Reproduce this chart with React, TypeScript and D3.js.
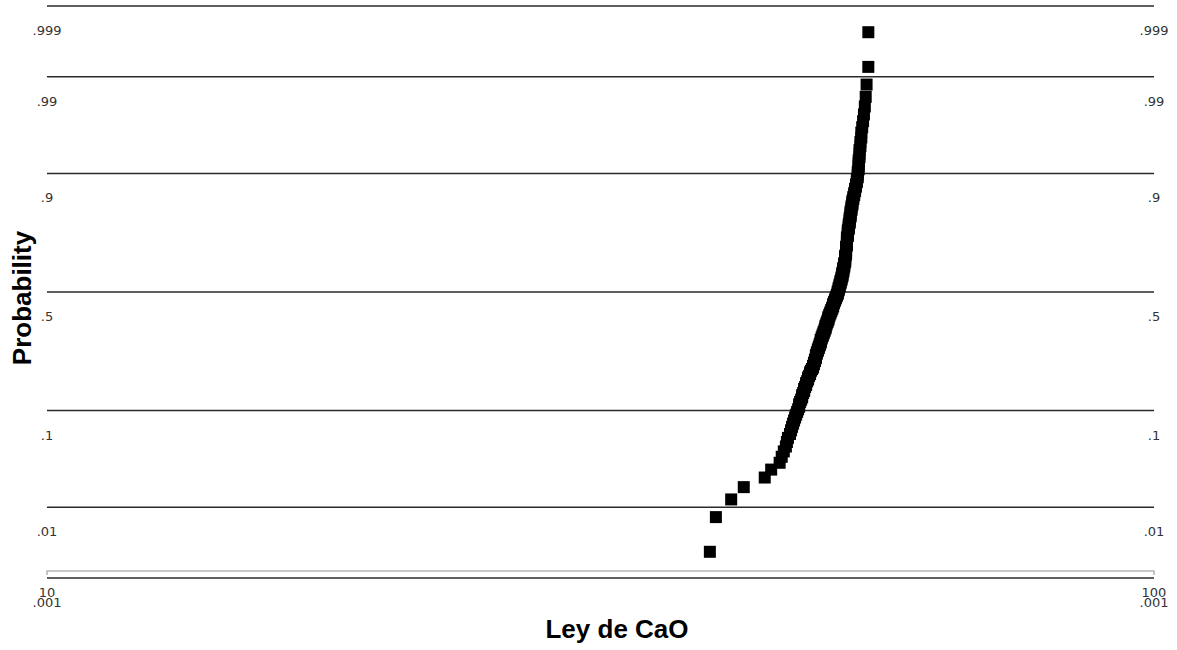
import React, { useRef, useEffect } from 'react';
import * as d3 from 'd3';

// Ley de CaO, sorted sample (n = 200)
const cao = [
  39.7, 40.2, 41.5, 42.6, 44.5, 45.1,
  45.9, 46.1, 46.3,
  46.5, 46.6, 46.7, 46.9, 47.0,
  47.1, 47.2, 47.3, 47.4, 47.5, 47.6,
  47.7, 47.8, 47.8, 47.9, 48.0,
  48.1, 48.1, 48.2, 48.3, 48.3, 48.4, 48.5, 48.5, 48.6, 48.7, 48.7, 48.8, 48.9, 48.9, 49.0,
  49.1, 49.2, 49.2, 49.3,
  49.3, 49.4, 49.4, 49.5, 49.5, 49.5, 49.6, 49.6, 49.7, 49.7,
  49.8, 49.8, 49.9, 49.9, 50.0, 50.0, 50.0, 50.1, 50.1, 50.2, 50.2, 50.3, 50.3, 50.4, 50.4,
  50.5, 50.5, 50.5, 50.6, 50.6, 50.7, 50.7, 50.8, 50.8, 50.8, 50.9, 50.9, 51.0, 51.0, 51.1, 51.1,
  51.2, 51.2, 51.3, 51.3, 51.3, 51.4, 51.4, 51.5, 51.5, 51.6, 51.6, 51.7, 51.7, 51.8, 51.8,
  51.8, 51.9, 51.9, 51.9, 52.0, 52.0, 52.0, 52.1, 52.1, 52.1, 52.2,
  52.2, 52.2, 52.3, 52.3, 52.3, 52.3, 52.4, 52.4, 52.4, 52.4, 52.5, 52.5, 52.5, 52.5, 52.6, 52.6, 52.6,
  52.6, 52.6, 52.6, 52.7, 52.7, 52.7, 52.7, 52.7, 52.7, 52.7, 52.8, 52.8, 52.8, 52.8, 52.8, 52.8, 52.8, 52.9, 52.9, 52.9, 52.9, 52.9,
  53.0, 53.0, 53.0, 53.0, 53.1, 53.1, 53.1, 53.1, 53.2, 53.2, 53.2, 53.2, 53.3, 53.3, 53.3, 53.4, 53.4, 53.4,
  53.5, 53.5, 53.6, 53.6, 53.7, 53.7, 53.8, 53.8, 53.9, 53.9, 54.0, 54.0,
  54.0, 54.1, 54.1, 54.1, 54.1, 54.2, 54.2, 54.2,
  54.3, 54.3, 54.4, 54.4,
  54.5, 54.6, 54.7, 54.8,
  54.9, 55.0,
  55.2, 55.2,
];

const probTicks = [0.999, 0.99, 0.9, 0.5, 0.1, 0.01, 0.001];
const probLabels = ['.999', '.99', '.9', '.5', '.1', '.01', '.001'];
const xTicks = [10, 100];

// inverse standard normal cdf (Acklam)
function probit(p: number): number {
  const a = [-39.69683028665376, 220.9460984245205, -275.9285104469687, 138.357751867269, -30.66479806614716, 2.506628277459239];
  const b = [-54.47609879822406, 161.5858368580409, -155.6989798598866, 66.80131188771972, -13.28068155288572];
  const c = [-0.007784894002430293, -0.3223964580411365, -2.400758277161838, -2.549732539343734, 4.374664141464968, 2.938163982698783];
  const d = [0.007784695709041462, 0.3224671290700398, 2.445134137142996, 3.754408661907416];
  const pl = 0.02425;
  if (p < pl) {
    const q = Math.sqrt(-2 * Math.log(p));
    return (((((c[0] * q + c[1]) * q + c[2]) * q + c[3]) * q + c[4]) * q + c[5]) /
      ((((d[0] * q + d[1]) * q + d[2]) * q + d[3]) * q + 1);
  }
  if (p > 1 - pl) {
    const q = Math.sqrt(-2 * Math.log(1 - p));
    return -(((((c[0] * q + c[1]) * q + c[2]) * q + c[3]) * q + c[4]) * q + c[5]) /
      ((((d[0] * q + d[1]) * q + d[2]) * q + d[3]) * q + 1);
  }
  const q = p - 0.5;
  const r = q * q;
  return (((((a[0] * r + a[1]) * r + a[2]) * r + a[3]) * r + a[4]) * r + a[5]) * q /
    (((((b[0] * r + b[1]) * r + b[2]) * r + b[3]) * r + b[4]) * r + 1);
}

const App = () => {
  const chartRef = useRef<SVGSVGElement>(null);

  useEffect(() => {
    const width = 1177;
    const height = 650;
    const left = 47;
    const right = 1154;
    const top = 6;
    const bottom = 578;
    const font = '"DejaVu Sans", Verdana, sans-serif';

    const svg = d3.select(chartRef.current);
    svg.selectAll('*').remove();
    svg.attr('width', width).attr('height', height);

    const zMax = probit(0.999);
    const y = d3.scaleLinear().domain([-zMax, zMax]).range([bottom, top]);
    const x = d3.scaleLog().domain([10, 100]).range([left, right]);

    // light x-axis baseline
    svg.append('path')
      .attr('d', `M${left},${bottom - 3}V${bottom - 7}H${right}V${bottom - 3}`)
      .attr('fill', 'none')
      .attr('stroke', '#b4b4b4')
      .attr('stroke-width', 1.5);

    // probability grid lines
    svg.selectAll('line.grid')
      .data(probTicks)
      .join('line')
      .attr('class', 'grid')
      .attr('x1', left)
      .attr('x2', right)
      .attr('y1', d => y(probit(d)))
      .attr('y2', d => y(probit(d)))
      .attr('stroke', '#2a2a2a')
      .attr('stroke-width', 1.5);

    // tick labels both sides
    [left, right].forEach(px => {
      svg.append('g')
        .selectAll('text')
        .data(probTicks)
        .join('text')
        .attr('x', px)
        .attr('y', d => y(probit(d)) + 29)
        .attr('text-anchor', 'middle')
        .style('font-family', font)
        .style('font-size', '13px')
        .style('fill', '#333')
        .text((d, i) => probLabels[i]);
    });

    svg.append('g')
      .selectAll('text')
      .data(xTicks)
      .join('text')
      .attr('x', d => x(d))
      .attr('y', bottom + 19)
      .attr('text-anchor', 'middle')
      .style('font-family', font)
      .style('font-size', '13px')
      .style('fill', '#333')
      .text(d => d);

    // data points
    const n = cao.length;
    const s = 12;
    svg.append('g')
      .selectAll('rect')
      .data(cao)
      .join('rect')
      .attr('x', d => x(d) - s / 2)
      .attr('y', (d, i) => y(probit((i + 0.5) / n)) - s / 2)
      .attr('width', s)
      .attr('height', s)
      .attr('fill', '#000');

    // axis titles
    svg.append('text')
      .attr('x', 617)
      .attr('y', 638)
      .attr('text-anchor', 'middle')
      .style('font-family', '"Liberation Sans", Arial, sans-serif')
      .style('font-weight', 'bold')
      .style('font-size', '26px')
      .text('Ley de CaO');

    svg.append('text')
      .attr('transform', 'translate(31,298) rotate(-90)')
      .attr('text-anchor', 'middle')
      .style('font-family', '"Liberation Sans", Arial, sans-serif')
      .style('font-weight', 'bold')
      .style('font-size', '26px')
      .text('Probability');
  }, []);

  return (
    <svg ref={chartRef} style={{ position: 'absolute', left: 0, top: 0 }}></svg>
  );
};

export default App;
